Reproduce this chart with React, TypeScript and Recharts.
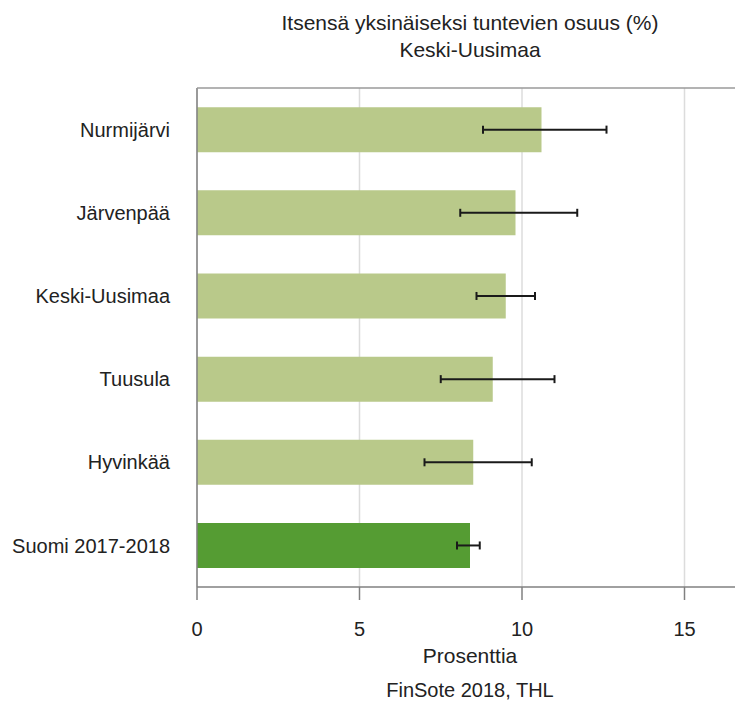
import { BarChart, Bar, XAxis, YAxis, CartesianGrid, ErrorBar, Cell } from 'recharts';

const categories = ['Nurmijärvi', 'Järvenpää', 'Keski-Uusimaa', 'Tuusula', 'Hyvinkää', 'Suomi 2017-2018'];
const shares = [10.6, 9.8, 9.5, 9.1, 8.5, 8.4];
const lower = [8.8, 8.1, 8.6, 7.5, 7.0, 8.0];
const upper = [12.6, 11.7, 10.4, 11.0, 10.3, 8.7];
const xTicks = [0, 5, 10, 15];

const title1 = 'Itsensä yksinäiseksi tuntevien osuus (%)';
const title2 = 'Keski-Uusimaa';
const xTitle = 'Prosenttia';
const source = 'FinSote 2018, THL';

const data = categories.map((name, i) => ({
  name,
  value: shares[i],
  err: [shares[i] - lower[i], upper[i] - shares[i]],
}));

const W = 735;
const H = 697;
const font = '"Liberation Sans", Arial, sans-serif';
const plotLeft = 189;
const plotTop = 80;
const plotCenter = (plotLeft + W) / 2;

export default function App() {
  return (
    <div style={{ position: 'relative', width: W, height: H, fontFamily: font }}>
      <BarChart
        width={W}
        height={H}
        data={data}
        layout="vertical"
        margin={{ top: plotTop, right: 0, bottom: 0, left: 0 }}
        barCategoryGap="23%"
      >
        <CartesianGrid horizontal={false} stroke="#dcdcdc" strokeWidth={1.5} />
        <XAxis
          type="number"
          domain={[0, 16.8]}
          ticks={xTicks}
          height={118}
          tickSize={13}
          tickMargin={22}
          stroke="#808080"
          strokeWidth={1.5}
          tick={{ fill: '#222', fontSize: 20, fontFamily: font }}
        />
        <YAxis
          type="category"
          dataKey="name"
          width={plotLeft}
          tickLine={false}
          tickSize={0}
          tickMargin={27}
          stroke="#808080"
          strokeWidth={1.5}
          tick={{ fill: '#222', fontSize: 20, fontFamily: font }}
        />
        <Bar dataKey="value" isAnimationActive={false}>
          {data.map((d, i) => (
            <Cell key={d.name} fill={i === data.length - 1 ? '#559c33' : '#b9c98a'} />
          ))}
          <ErrorBar dataKey="err" direction="x" width={4} stroke="#1a1a1a" strokeWidth={2} isAnimationActive={false} />
        </Bar>
      </BarChart>
      <svg width={W} height={H} style={{ position: 'absolute', left: 0, top: 0, pointerEvents: 'none' }}>
        <line x1={plotLeft} x2={W} y1={plotTop} y2={plotTop} stroke="#9a9a9a" strokeWidth={1.5} />
        <g fontFamily={font} fill="#222" textAnchor="middle">
          <text x={plotCenter} y={22} fontSize={21}>{title1}</text>
          <text x={plotCenter} y={49} fontSize={21}>{title2}</text>
          <text x={plotCenter} y={655} fontSize={21}>{xTitle}</text>
          <text x={plotCenter} y={689} fontSize={20}>{source}</text>
        </g>
      </svg>
    </div>
  );
}
